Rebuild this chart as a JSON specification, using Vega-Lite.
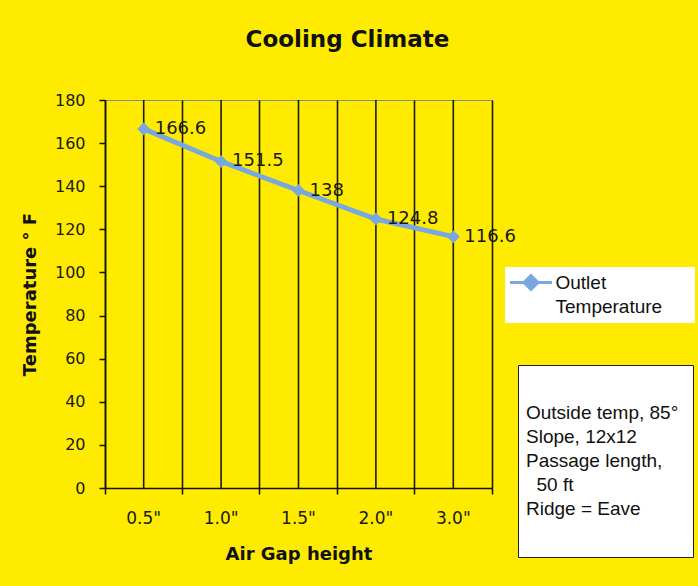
{
  "$schema": "https://vega.github.io/schema/vega-lite/v6.json",
  "width": 387,
  "height": 388,
  "autosize": {"type": "none"},
  "padding": {"left": 105, "top": 100, "right": 206, "bottom": 98},
  "background": "#FFEB00",
  "title": {
    "text": "Cooling Climate",
    "font": "DejaVu Sans",
    "fontWeight": "bold",
    "fontSize": 23,
    "color": "#111111",
    "anchor": "middle",
    "frame": "group",
    "dx": 49,
    "offset": 40
  },
  "datasets": {
    "temps": [
      {"gap": "0.5\"", "temp": 166.6, "series": "Outlet Temperature"},
      {"gap": "1.0\"", "temp": 151.5, "series": "Outlet Temperature"},
      {"gap": "1.5\"", "temp": 138, "series": "Outlet Temperature"},
      {"gap": "2.0\"", "temp": 124.8, "series": "Outlet Temperature"},
      {"gap": "3.0\"", "temp": 116.6, "series": "Outlet Temperature"}
    ],
    "notes": [
      {"note": "Outside temp, 85°"},
      {"note": "Slope, 12x12"},
      {"note": "Passage length,"},
      {"note": "\u200d\u00a0\u00a050 ft"},
      {"note": "Ridge = Eave"}
    ]
  },
  "data": {"name": "temps"},
  "encoding": {
    "x": {
      "field": "gap",
      "type": "ordinal",
      "sort": null,
      "scale": {"type": "band", "paddingInner": 0, "paddingOuter": 0},
      "axis": {
        "title": "Air Gap height",
        "titleFontSize": 18,
        "titlePadding": 19,
        "labelAngle": 0,
        "labelFontSize": 17,
        "bandPosition": 1,
        "tickExtra": true,
        "labelPadding": 16,
        "grid": true,
        "gridColor": "#1a1a1a",
        "gridWidth": 1.6
      }
    }
  },
  "layer": [
    {
      "mark": {"type": "rule", "color": "#1a1a1a", "strokeWidth": 1.6},
      "encoding": {}
    },
    {
      "mark": {"type": "line", "strokeWidth": 5, "strokeCap": "round"},
      "encoding": {
        "y": {
          "field": "temp",
          "type": "quantitative",
          "scale": {"domain": [0, 180], "nice": false},
          "axis": {
            "title": "Temperature ° F",
            "titleFontSize": 18,
            "titlePadding": 15,
            "tickCount": 9,
            "grid": false,
            "labelPadding": 14
          }
        },
        "color": {
          "field": "series",
          "type": "nominal",
          "scale": {"range": ["#79a7e0"]},
          "legend": {
            "orient": "none",
            "legendX": 400,
            "legendY": 167,
            "title": null,
            "fillColor": "white",
            "padding": 6,
            "labelFont": "Liberation Sans",
            "labelFontSize": 19,
            "labelColor": "#111111",
            "labelLimit": 300,
            "labelOffset": 15,
            "labelExpr": "split(datum.label + '\u00a0\u00a0\u00a0\u00a0\u00a0\u200d', ' ')",
            "symbolType": "M-2.8,0H2.8M-0.93,0L0,-0.93L0.93,0L0,0.93Z",
            "symbolSize": 225,
            "symbolOffset": 10.5,
            "symbolStrokeWidth": 3,
            "symbolFillColor": "#79a7e0",
            "symbolStrokeColor": "#79a7e0",
            "symbolOpacity": 1
          }
        }
      }
    },
    {
      "mark": {"type": "point", "shape": "diamond", "filled": true, "size": 170, "opacity": 1, "color": "#79a7e0"},
      "encoding": {
        "y": {"field": "temp", "type": "quantitative"}
      }
    },
    {
      "mark": {"type": "text", "align": "left", "baseline": "middle", "dx": 11, "font": "DejaVu Sans", "fontSize": 18, "color": "#1a1a1a"},
      "encoding": {
        "y": {"field": "temp", "type": "quantitative"},
        "text": {"field": "temp", "type": "nominal"}
      }
    },
    {
      "data": {"name": "notes"},
      "mark": {"type": "point", "opacity": 0},
      "encoding": {
        "x": null,
        "shape": {
          "field": "note",
          "type": "nominal",
          "sort": null,
          "legend": {
            "orient": "none",
            "legendX": 413,
            "legendY": 265,
            "title": "\u00a0",
            "titleFontSize": 20,
            "titlePadding": 4,
            "fillColor": "white",
            "strokeColor": "#222222",
            "padding": 14,
            "labelFont": "Liberation Sans",
            "labelFontSize": 19,
            "labelColor": "#111111",
            "labelLimit": 400,
            "labelOffset": -25,
            "symbolSize": 1,
            "symbolOpacity": 0,
            "symbolStrokeWidth": 0,
            "rowPadding": 4,
            "labelExpr": "datum.index == 4 ? [datum.label, '\u00a0'] : datum.label"
          }
        }
      }
    }
  ],
  "config": {
    "view": {"fill": "#d3d3d3", "stroke": "#8a8a8a", "strokeWidth": 1},
    "axis": {
      "labelFont": "DejaVu Sans",
      "labelFontSize": 16,
      "labelColor": "#1a1a1a",
      "titleFont": "DejaVu Sans",
      "titleFontWeight": "bold",
      "titleColor": "#111111",
      "domainColor": "#111111",
      "domainWidth": 1.5,
      "tickColor": "#111111",
      "tickWidth": 1.5,
      "tickSize": 6
    },
    "style": {"guide-label": {"lineHeight": 24}}
  }
}
